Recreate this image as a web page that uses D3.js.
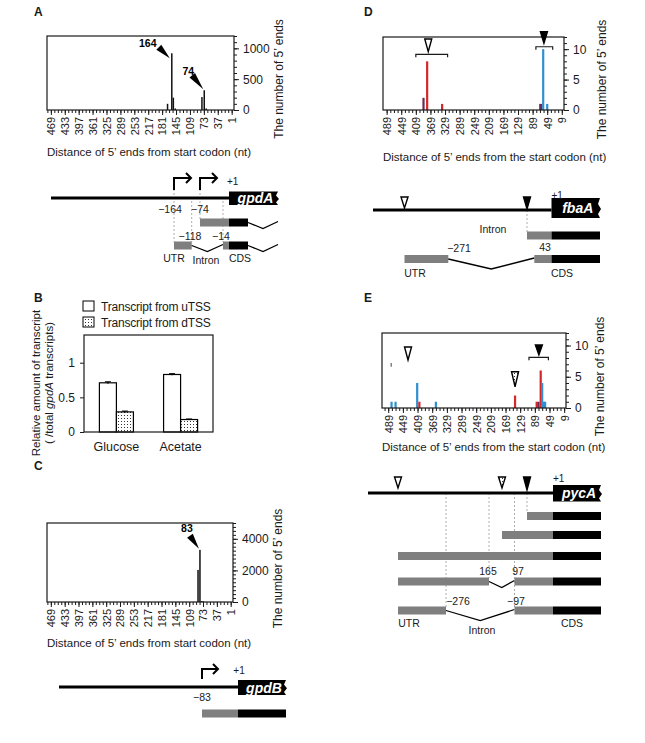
<!DOCTYPE html>
<html>
<head>
<meta charset="utf-8">
<script src="https://cdn.jsdelivr.net/npm/d3@7"></script>
<style>
  body { margin: 0; background: #fff; }
</style>
</head>
<body>
<script>
// ---------- data ----------
// A: gpdA 5' end counts (distance upstream of start codon, nt)
const gpdaTicks = [469, 433, 397, 361, 325, 289, 253, 217, 181, 145, 109, 73, 37, 1];
const gpdaPos = [167, 156, 152, 147, 78, 72, 67];
const gpdaCount = [100, 920, 200, 25, 210, 320, 25];

// B: relative amount of transcript
const conditions = ["Glucose", "Acetate"];
const fromUTSS = [0.71, 0.83];
const fromDTSS = [0.29, 0.18];
const errUTSS = [0.015, 0.012];
const errDTSS = [0.012, 0.008];

// C: gpdB 5' end counts
const gpdbPos = [86, 81, 76, 72];
const gpdbCount = [2030, 3300, 60, 40];

// D: fbaA 5' end counts, two samples (red / blue / both overlapping)
const startTicks = [489, 449, 409, 369, 329, 289, 249, 209, 169, 129, 89, 49, 9];
const fbaPos = [388, 378, 337, 68, 66, 60, 49];
const fbaCount = [2, 8, 1, 1, 1, 10, 1];
const fbaSample = ["both", "red", "red", "both", "both", "blue", "blue"];

// E: pycA 5' end counts
const pycPos = [480, 469, 410, 404, 359, 143, 84, 79, 73, 69, 65, 61];
const pycCount = [1, 1, 4, 1, 1, 2, 1, 1, 6, 4, 1, 1];
const pycSample = ["blue", "blue", "blue", "red", "blue", "red", "red", "both", "red", "blue", "blue", "blue"];

// ---------- setup ----------
const svg = d3.select("body").append("svg")
  .attr("width", 645).attr("height", 743)
  .style("font-family", "'Liberation Sans', Arial, Helvetica, sans-serif")
  .style("background", "#fff");

const ink = "#1a1a1a";
const utrGray = "#7f7f7f";

const defs = svg.append("defs");
const dots = defs.append("pattern").attr("id", "dots")
  .attr("width", 3).attr("height", 3).attr("patternUnits", "userSpaceOnUse");
dots.append("rect").attr("width", 3).attr("height", 3).attr("fill", "#fff");
dots.append("rect").attr("x", 1).attr("y", 1).attr("width", 1).attr("height", 1).attr("fill", "#333");

const sampleColor = d3.scaleOrdinal()
  .domain(["red", "blue", "both", "mono"])
  .range(["#d3272b", "#2f8fd0", "#6a2c55", "#111"]);

function letter(t, x, y) {
  svg.append("text").attr("x", x).attr("y", y)
    .attr("font-weight", "bold").attr("font-size", 12).attr("fill", ink).text(t);
}

// histogram of 5' ends with reversed ruler axis and right count axis
function ruler(o) {
  const x = d3.scaleLinear().domain(o.xDomain).range([o.left, o.right]);
  const y = d3.scaleLinear().domain([0, o.yMax]).range([o.bottom, o.top]);
  const g = svg.append("g");

  const bars = o.pos.map((p, i) => ({ p, c: o.count[i], s: o.sample ? o.sample[i] : "mono" }));
  g.selectAll(null).data(bars).join("rect")
    .attr("x", d => x(d.p) - o.barW / 2)
    .attr("width", o.barW)
    .attr("y", d => y(d.c))
    .attr("height", d => o.bottom - y(d.c))
    .attr("fill", d => sampleColor(d.s));

  const xMinor = g.append("g").attr("transform", `translate(0,${o.bottom})`)
    .call(d3.axisBottom(x).tickValues(o.minorX).tickSize(3).tickFormat(""));
  const xMajor = g.append("g").attr("transform", `translate(0,${o.bottom})`)
    .call(d3.axisBottom(x).tickValues(o.ticks).tickSize(5));
  xMajor.selectAll("text")
    .attr("transform", "rotate(-90)")
    .attr("x", -7).attr("y", 0).attr("dy", "0.35em")
    .style("text-anchor", "end");

  const yMinor = g.append("g").attr("transform", `translate(${o.right},0)`)
    .call(d3.axisRight(y).tickValues(o.minorY).tickSize(3).tickFormat(""));
  const yMajor = g.append("g").attr("transform", `translate(${o.right},0)`)
    .call(d3.axisRight(y).tickValues(o.yTicks).tickSize(5).tickPadding(4).tickFormat(d3.format("d")));

  [xMinor, xMajor, yMinor, yMajor].forEach(a => {
    a.select(".domain").remove();
    a.attr("font-family", null).attr("font-size", 11).attr("color", ink);
  });
  yMajor.selectAll("text").attr("font-size", 12);

  g.append("rect")
    .attr("x", o.left).attr("y", o.top)
    .attr("width", o.right - o.left).attr("height", o.bottom - o.top)
    .attr("fill", "none").attr("stroke", ink).attr("stroke-width", 1.2);

  g.append("text")
    .attr("transform", `translate(${o.yLabelX},${(o.top + o.bottom) / 2 + 6}) rotate(-90)`)
    .attr("text-anchor", "middle").attr("font-size", 12).attr("fill", ink)
    .text("The number of 5\u2019 ends");

  g.append("text")
    .attr("x", o.left).attr("y", o.xLabelY)
    .attr("font-size", 11.5).attr("fill", ink)
    .text(o.xLabel);

  return { x, y, g };
}

// small markers
function wedge(g, x0, y0, x1, y1, w) {
  const dx = x1 - x0, dy = y1 - y0, L = Math.hypot(dx, dy);
  const nx = -dy / L * w / 2, ny = dx / L * w / 2;
  g.append("polygon")
    .attr("points", [[x1, y1], [x0 + nx, y0 + ny], [x0 - nx, y0 - ny]].join(" "))
    .attr("fill", "#000");
}

function tri(g, cx, yTop, yTip, kind) {
  const w = 7;
  g.append("polygon")
    .attr("points", [[cx - w / 2, yTop], [cx + w / 2, yTop], [cx, yTip]].join(" "))
    .attr("fill", kind === "filled" ? "#000" : kind === "dotted" ? "url(#dots)" : "#fff")
    .attr("stroke", "#000").attr("stroke-width", 1.4).attr("stroke-linejoin", "miter");
}

function bracket(g, x0, x1, y) {
  g.append("path")
    .attr("d", `M${x0},${y + 3}V${y}H${x1}V${y + 3}`)
    .attr("fill", "none").attr("stroke", ink).attr("stroke-width", 1.2);
}

// gene diagram pieces
function geneLine(g, x0, x1, y) {
  g.append("line").attr("x1", x0).attr("x2", x1).attr("y1", y).attr("y2", y)
    .attr("stroke", "#000").attr("stroke-width", 3);
}

function geneBox(g, x0, x1, y0, y1, name) {
  const h = y1 - y0;
  const pts = [[x0, y0], [x1, y0], [x1 - 2, y0 + h * 0.3], [x1 + 1, y0 + h * 0.55],
               [x1 - 2, y0 + h * 0.8], [x1, y1], [x0, y1]];
  g.append("polygon").attr("points", pts.join(" ")).attr("fill", "#000");
  g.append("text")
    .attr("x", (x0 + x1) / 2 + 2).attr("y", (y0 + y1) / 2).attr("dy", "0.36em")
    .attr("text-anchor", "middle").attr("fill", "#fff")
    .attr("font-weight", "bold").attr("font-style", "italic").attr("font-size", 14)
    .text(name);
}

function bentArrow(g, x, yBase, yTop, len) {
  g.append("path").attr("d", `M${x},${yBase}V${yTop}H${x + len}`)
    .attr("fill", "none").attr("stroke", "#000").attr("stroke-width", 2);
  g.append("path").attr("d", `M${x + len - 5},${yTop - 5}L${x + len},${yTop}L${x + len - 5},${yTop + 5}`)
    .attr("fill", "none").attr("stroke", "#000").attr("stroke-width", 2);
}

function dashed(g, x, y0, y1) {
  g.append("line").attr("x1", x).attr("x2", x).attr("y1", y0).attr("y2", y1)
    .attr("stroke", "#999").attr("stroke-width", 0.8).attr("stroke-dasharray", "2,2");
}

// segments: [from, to, type] in gene coordinates
function transcript(g, sx, yTop, h, segs, dip) {
  segs.forEach(([a, b, type]) => {
    if (type === "intron") {
      const x0 = sx(a), x1 = sx(b), ym = yTop + h / 2;
      g.append("path")
        .attr("d", `M${x0},${ym}L${(x0 + x1) / 2},${ym + dip}L${x1},${ym - 1}`)
        .attr("fill", "none").attr("stroke", "#000").attr("stroke-width", 1.3);
    } else {
      g.append("rect").attr("x", sx(a)).attr("y", yTop)
        .attr("width", sx(b) - sx(a)).attr("height", h)
        .attr("fill", type === "cds" ? "#000" : utrGray);
    }
  });
}

function label(g, x, y, t, size, anchor) {
  return g.append("text").attr("x", x).attr("y", y)
    .attr("text-anchor", anchor || "middle").attr("font-size", size || 10.5)
    .attr("fill", ink).text(t);
}

// ---------- panel A ----------
letter("A", 34, 16);
const A = ruler({
  left: 47, right: 234, top: 36, bottom: 110,
  xDomain: [479, -5], yMax: 1200,
  ticks: gpdaTicks, minorX: d3.range(1, 479, 9),
  yTicks: [0, 500, 1000], minorY: d3.range(0, 1201, 100),
  pos: gpdaPos, count: gpdaCount, barW: 1.5,
  yLabelX: 283, xLabelY: 156,
  xLabel: "Distance of 5\u2019 ends from start codon (nt)"
});
{
  const tx = A.x(156), ty = A.y(920);
  wedge(A.g, tx - 13, ty - 6, tx - 2, ty + 5, 7);
  A.g.append("text").attr("x", tx - 24).attr("y", ty - 6).attr("text-anchor", "middle")
    .attr("font-weight", "bold").attr("font-size", 10.5).text("164");
  const ux = A.x(72), uy = A.y(320);
  wedge(A.g, ux - 12, uy - 15, ux - 1, uy - 1, 7);
  A.g.append("text").attr("x", ux - 16).attr("y", uy - 15).attr("text-anchor", "middle")
    .attr("font-weight", "bold").attr("font-size", 10.5).text("74");
}

// gpdA diagram
{
  const g = svg.append("g");
  const s = d3.scaleLinear()
    .domain([-560, -164, -118, -74, -14, 0, 60, 150])
    .range([51, 174, 191.7, 200, 223, 229, 248, 278]);
  [[-164, 189, 242], [-118, 201, 242], [-74, 189, 219], [-14, 201, 242]]
    .forEach(([p, a, b]) => dashed(g, s(p), a, b));
  geneLine(g, s(-560), s(0), 198);
  geneBox(g, s(0), s(150), 191.5, 205, "gpdA");
  label(g, s(0) - 2, 185, "+1", 10, "start");
  bentArrow(g, s(-164), 190, 178, 17);
  bentArrow(g, s(-74), 190, 178, 17);
  label(g, 170, 213, "\u2212164");
  label(g, 200, 213, "\u221274");
  transcript(g, s, 218.5, 8, [[-74, 0, "utr"], [0, 60, "cds"], [60, 150, "intron"]], 6);
  transcript(g, s, 241.5, 8, [[-164, -118, "utr"], [-118, -14, "intron"], [-14, 0, "utr"],
                              [0, 60, "cds"], [60, 150, "intron"]], 6);
  label(g, 190, 240, "\u2212118");
  label(g, 221, 240, "\u221214");
  label(g, 174, 262, "UTR");
  label(g, 206, 264, "Intron");
  label(g, 240, 262, "CDS");
}

// ---------- panel B ----------
letter("B", 34, 302);
{
  const g = svg.append("g");
  const x0 = d3.scaleBand().domain(conditions).range([84, 213]).paddingInner(0.47).paddingOuter(0.24);
  const x1 = d3.scaleBand().domain(["u", "d"]).range([0, x0.bandwidth()]);
  const y = d3.scaleLinear().domain([0, 1.4]).range([432, 335]);

  const rows = conditions.flatMap((c, i) => [
    { c, k: "u", v: fromUTSS[i], e: errUTSS[i] },
    { c, k: "d", v: fromDTSS[i], e: errDTSS[i] }
  ]);
  g.selectAll(null).data(rows).join("rect")
    .attr("x", d => x0(d.c) + x1(d.k))
    .attr("width", x1.bandwidth())
    .attr("y", d => y(d.v))
    .attr("height", d => y(0) - y(d.v))
    .attr("fill", d => d.k === "u" ? "#fff" : "url(#dots)")
    .attr("stroke", "#000").attr("stroke-width", 1.2);
  const eb = g.selectAll(null).data(rows).join("g")
    .attr("transform", d => `translate(${x0(d.c) + x1(d.k) + x1.bandwidth() / 2},0)`);
  eb.append("line").attr("y1", d => y(d.v - d.e)).attr("y2", d => y(d.v + d.e)).attr("stroke", "#000");
  eb.append("line").attr("x1", -3).attr("x2", 3).attr("y1", d => y(d.v + d.e)).attr("y2", d => y(d.v + d.e)).attr("stroke", "#000");

  const ya = g.append("g").attr("transform", "translate(84,0)")
    .call(d3.axisLeft(y).tickValues([0, 0.5, 1]).tickSize(4).tickPadding(5).tickFormat(d => d));
  ya.select(".domain").remove();
  ya.attr("font-family", null).attr("font-size", 12).attr("color", ink);

  g.append("rect").attr("x", 84).attr("y", 335).attr("width", 129).attr("height", 97)
    .attr("fill", "none").attr("stroke", ink).attr("stroke-width", 1.2);

  conditions.forEach(c => label(g, x0(c) + x0.bandwidth() / 2, 451, c, 12.5));

  // legend
  [["#fff", "Transcript from uTSS", 301], ["url(#dots)", "Transcript from dTSS", 317]].forEach(([f, t, yy]) => {
    g.append("rect").attr("x", 83).attr("y", yy).attr("width", 11).attr("height", 10)
      .attr("fill", f).attr("stroke", "#000").attr("stroke-width", 1);
    g.append("text").attr("x", 101).attr("y", yy + 9.5).attr("font-size", 12)
      .attr("letter-spacing", -0.2).attr("fill", ink).text(t);
  });

  g.append("text").attr("transform", "translate(40,383) rotate(-90)")
    .attr("text-anchor", "middle").attr("font-size", 11.5).attr("fill", ink)
    .text("Relative amount of transcript");
  const t2 = g.append("text").attr("transform", "translate(53,383) rotate(-90)")
    .attr("text-anchor", "middle").attr("font-size", 11.5).attr("fill", ink);
  t2.append("tspan").text("( /total ");
  t2.append("tspan").attr("font-style", "italic").text("gpdA");
  t2.append("tspan").text(" transcripts)");
}

// ---------- panel C ----------
letter("C", 34, 470);
const C = ruler({
  left: 47, right: 233, top: 523, bottom: 602,
  xDomain: [479, -5], yMax: 5000,
  ticks: gpdaTicks, minorX: d3.range(1, 479, 9),
  yTicks: [0, 2000, 4000], minorY: d3.range(0, 5001, 250),
  pos: gpdbPos, count: gpdbCount, barW: 1.5,
  yLabelX: 282, xLabelY: 647,
  xLabel: "Distance of 5\u2019 ends from start codon (nt)"
});
{
  const tx = C.x(81), ty = C.y(3300);
  wedge(C.g, tx - 10, ty - 14, tx - 1, ty - 1, 7);
  C.g.append("text").attr("x", tx - 13).attr("y", ty - 18).attr("text-anchor", "middle")
    .attr("font-weight", "bold").attr("font-size", 10.5).text("83");
}

// gpdB diagram
{
  const g = svg.append("g");
  const s = d3.scaleLinear().domain([-560, -83, 0, 60]).range([59, 202, 238, 286]);
  geneLine(g, s(-560), s(0), 687);
  geneBox(g, s(0), s(60), 680, 695, "gpdB");
  label(g, s(0) + 1, 674, "+1", 10);
  bentArrow(g, s(-83), 679, 669, 16);
  label(g, s(-83), 701, "\u221283");
  transcript(g, s, 709.5, 8, [[-83, 0, "utr"], [0, 60, "cds"]], 0);
}

// ---------- panel D ----------
letter("D", 364, 16);
const D = ruler({
  left: 383, right: 564, top: 37, bottom: 110,
  xDomain: [499, 3], yMax: 12,
  ticks: startTicks, minorX: d3.range(9, 499, 10),
  yTicks: [0, 5, 10], minorY: d3.range(0, 13, 1),
  pos: fbaPos, count: fbaCount, sample: fbaSample, barW: 2.2,
  yLabelX: 606, xLabelY: 161,
  xLabel: "Distance of 5\u2019 ends from the start codon (nt)"
});
bracket(D.g, D.x(409), D.x(322), D.y(9.16));
tri(D.g, D.x(375), D.y(11.67), D.y(9.58), "open");
bracket(D.g, D.x(80), D.x(34), D.y(10.4));
tri(D.g, D.x(58), D.y(12.87), D.y(10.96), "filled");

// fbaA diagram
{
  const g = svg.append("g");
  const s = d3.scaleLinear()
    .domain([-520, -375, -271, -60, -43, 0, 130])
    .range([373, 404.5, 448.3, 527, 534.3, 551.5, 600]);
  dashed(g, s(-60), 210, 232);
  geneLine(g, s(-520), s(0), 210);
  geneBox(g, s(0), s(130), 198, 218, "fbaA");
  label(g, s(0), 199, "+1", 10, "start");
  tri(g, s(-375), 197, 208, "open");
  tri(g, s(-60), 197, 209, "filled");
  label(g, 493, 233, "Intron");
  transcript(g, s, 231.5, 8, [[-60, 0, "utr"], [0, 130, "cds"]], 0);
  transcript(g, s, 255, 8, [[-375, -271, "utr"], [-271, -43, "intron"], [-43, 0, "utr"], [0, 130, "cds"]], 10);
  label(g, 459, 252, "\u2212271");
  label(g, 545, 251, "43");
  label(g, 415, 277, "UTR");
  label(g, 562, 277, "CDS");
}

// ---------- panel E ----------
letter("E", 364, 302);
const E = ruler({
  left: 382, right: 566, top: 333, bottom: 408,
  xDomain: [506, 4], yMax: 12,
  ticks: startTicks, minorX: d3.range(9, 506, 10),
  yTicks: [0, 5, 10], minorY: d3.range(0, 13, 1),
  pos: pycPos, count: pycCount, sample: pycSample, barW: 2.2,
  yLabelX: 604, xLabelY: 451,
  xLabel: "Distance of 5\u2019 ends from the start codon (nt)"
});
tri(E.g, E.x(435), E.y(9.76), E.y(7.68), "open");
bracket(E.g, E.x(105), E.x(52), E.y(8.11));
tri(E.g, E.x(78), E.y(10.08), E.y(8.48), "filled");
tri(E.g, E.x(143), E.y(5.8), E.y(3.4), "dotted");
E.g.append("line").attr("x1", E.x(481)).attr("x2", E.x(481)).attr("y1", E.y(7.2)).attr("y2", E.y(6.6))
  .attr("stroke", "#444").attr("stroke-width", 1);

// pycA diagram
{
  const g = svg.append("g");
  const s = d3.scaleLinear()
    .domain([-520, -480, -276, -165, -143, -97, -70, 0, 130])
    .range([368, 398, 446, 489, 502, 514.5, 527, 553, 601]);
  [[-276, 607], [-165, 578], [-97, 607], [-70, 512]].forEach(([p, b]) => dashed(g, s(p), 493, b));
  geneLine(g, s(-520), s(0), 493);
  geneBox(g, s(0), s(130), 485, 501.5, "pycA");
  label(g, s(0), 482, "+1", 10, "start");
  tri(g, s(-480), 477, 488, "open");
  tri(g, s(-143), 477, 488, "dotted");
  tri(g, s(-70), 477, 490, "filled");
  transcript(g, s, 512, 8, [[-70, 0, "utr"], [0, 130, "cds"]], 0);
  transcript(g, s, 531, 8, [[-143, 0, "utr"], [0, 130, "cds"]], 0);
  transcript(g, s, 552, 8, [[-480, 0, "utr"], [0, 130, "cds"]], 0);
  transcript(g, s, 577.5, 8, [[-480, -165, "utr"], [-165, -97, "intron"], [-97, 0, "utr"], [0, 130, "cds"]], 6);
  transcript(g, s, 606.5, 8, [[-480, -276, "utr"], [-276, -97, "intron"], [-97, 0, "utr"], [0, 130, "cds"]], 10);
  label(g, 488, 575, "165");
  label(g, 518, 575, "97");
  label(g, 458, 605, "\u2212276");
  label(g, 516, 605, "\u221297");
  label(g, 409, 627, "UTR");
  label(g, 482, 634, "Intron");
  label(g, 572, 627, "CDS");
}
</script>
</body>
</html>
